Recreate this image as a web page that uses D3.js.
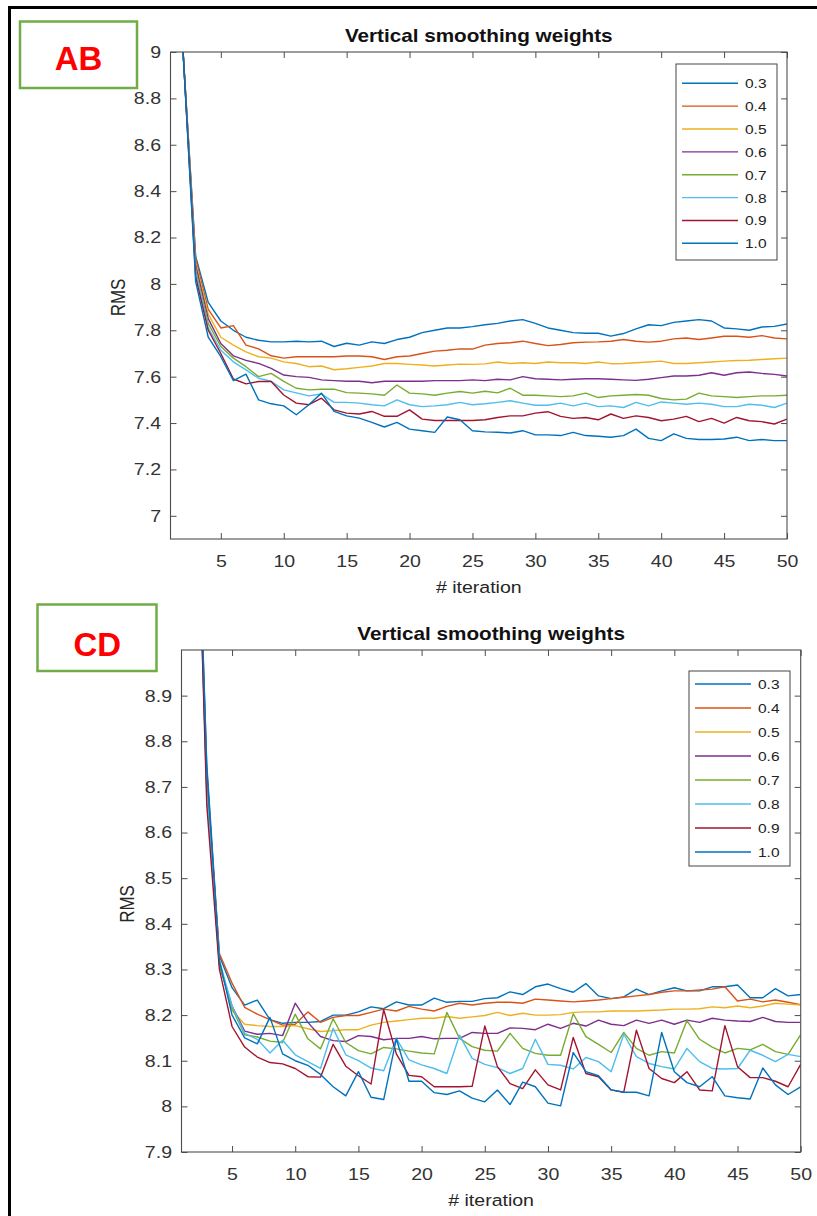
<!DOCTYPE html>
<html>
<head>
<meta charset="utf-8">
<script src="https://cdn.jsdelivr.net/npm/d3@7"></script>
<style>
  html, body { margin: 0; padding: 0; background: #fff; }
  svg { display: block; font-family: "Liberation Sans", Arial, sans-serif; }
</style>
</head>
<body>
<svg id="fig" width="817" height="1216"></svg>
<script>
// Iteration index (x values) shared by every curve
const iterations = [1,2,3,4,5,6,7,8,9,10,11,12,13,14,15,16,17,18,19,20,
  21,22,23,24,25,26,27,28,29,30,31,32,33,34,35,36,37,38,39,40,
  41,42,43,44,45,46,47,48,49,50];

// Smoothing weights (legend entries) and their line colours
const weightLabels = ["0.3", "0.4", "0.5", "0.6", "0.7", "0.8", "0.9", "1.0"];
const lineColors = ["#0072BD", "#D95319", "#EDB120", "#7E2F8E", "#77AC30", "#4DBEEE", "#A2142F", "#0072BD"];

// Tick values
const xTicks = [5, 10, 15, 20, 25, 30, 35, 40, 45, 50];
const abYTicks = [7, 7.2, 7.4, 7.6, 7.8, 8, 8.2, 8.4, 8.6, 8.8, 9];
const cdYTicks = [7.9, 8, 8.1, 8.2, 8.3, 8.4, 8.5, 8.6, 8.7, 8.8, 8.9];

// Panel AB: RMS per iteration for each weight
const ab03 = [10.5, 9.0, 8.12, 7.92, 7.84, 7.80, 7.77, 7.757, 7.75, 7.75, 7.753, 7.75, 7.753, 7.73, 7.744, 7.736, 7.75, 7.743, 7.76, 7.77, 7.79, 7.80, 7.81, 7.81, 7.816, 7.824, 7.83, 7.84, 7.846, 7.83, 7.81, 7.80, 7.79, 7.787, 7.787, 7.775, 7.786, 7.806, 7.824, 7.82, 7.834, 7.84, 7.846, 7.84, 7.81, 7.806, 7.80, 7.814, 7.817, 7.827];
const ab04 = [10.5, 9.0, 8.11, 7.89, 7.81, 7.82, 7.736, 7.72, 7.69, 7.68, 7.686, 7.686, 7.686, 7.686, 7.689, 7.689, 7.686, 7.674, 7.686, 7.689, 7.70, 7.71, 7.714, 7.72, 7.719, 7.736, 7.743, 7.746, 7.753, 7.743, 7.734, 7.739, 7.746, 7.749, 7.75, 7.753, 7.76, 7.753, 7.749, 7.753, 7.763, 7.767, 7.76, 7.767, 7.774, 7.774, 7.77, 7.777, 7.767, 7.763];
const ab05 = [10.5, 9.0, 8.09, 7.87, 7.77, 7.736, 7.707, 7.686, 7.68, 7.664, 7.657, 7.643, 7.646, 7.63, 7.634, 7.64, 7.646, 7.657, 7.657, 7.653, 7.65, 7.646, 7.65, 7.654, 7.653, 7.655, 7.663, 7.657, 7.66, 7.657, 7.663, 7.66, 7.66, 7.657, 7.663, 7.656, 7.657, 7.66, 7.663, 7.667, 7.657, 7.657, 7.66, 7.663, 7.667, 7.67, 7.671, 7.674, 7.677, 7.68];
const ab06 = [10.5, 9.0, 8.08, 7.85, 7.743, 7.69, 7.67, 7.657, 7.636, 7.607, 7.60, 7.597, 7.586, 7.583, 7.58, 7.58, 7.574, 7.58, 7.58, 7.58, 7.58, 7.583, 7.583, 7.583, 7.586, 7.583, 7.589, 7.586, 7.60, 7.591, 7.589, 7.586, 7.589, 7.591, 7.591, 7.589, 7.586, 7.584, 7.589, 7.596, 7.603, 7.603, 7.606, 7.617, 7.606, 7.617, 7.62, 7.614, 7.61, 7.603];
const ab07 = [10.5, 9.0, 8.06, 7.83, 7.73, 7.68, 7.643, 7.60, 7.614, 7.58, 7.55, 7.543, 7.546, 7.546, 7.531, 7.529, 7.526, 7.52, 7.564, 7.529, 7.526, 7.52, 7.529, 7.536, 7.529, 7.537, 7.53, 7.55, 7.52, 7.52, 7.517, 7.514, 7.517, 7.529, 7.51, 7.517, 7.52, 7.523, 7.52, 7.506, 7.50, 7.503, 7.529, 7.517, 7.514, 7.51, 7.514, 7.517, 7.517, 7.52];
const ab08 = [10.5, 9.0, 8.05, 7.81, 7.714, 7.664, 7.629, 7.593, 7.58, 7.543, 7.53, 7.517, 7.525, 7.489, 7.489, 7.486, 7.479, 7.474, 7.50, 7.479, 7.471, 7.474, 7.479, 7.489, 7.479, 7.483, 7.489, 7.496, 7.486, 7.477, 7.477, 7.486, 7.474, 7.486, 7.471, 7.474, 7.467, 7.489, 7.474, 7.491, 7.486, 7.481, 7.486, 7.481, 7.471, 7.471, 7.481, 7.477, 7.467, 7.486];
const ab09 = [10.5, 9.0, 8.03, 7.80, 7.70, 7.59, 7.569, 7.579, 7.579, 7.521, 7.486, 7.479, 7.507, 7.457, 7.443, 7.439, 7.45, 7.429, 7.429, 7.457, 7.417, 7.411, 7.411, 7.411, 7.411, 7.414, 7.424, 7.431, 7.431, 7.443, 7.449, 7.429, 7.42, 7.424, 7.414, 7.439, 7.42, 7.431, 7.424, 7.41, 7.417, 7.429, 7.406, 7.42, 7.40, 7.424, 7.41, 7.406, 7.396, 7.417];
const ab10 = [10.5, 9.0, 8.01, 7.77, 7.686, 7.583, 7.611, 7.50, 7.483, 7.474, 7.436, 7.479, 7.529, 7.45, 7.431, 7.421, 7.403, 7.383, 7.403, 7.374, 7.367, 7.36, 7.426, 7.414, 7.367, 7.362, 7.36, 7.357, 7.367, 7.349, 7.349, 7.346, 7.36, 7.346, 7.343, 7.339, 7.346, 7.374, 7.334, 7.324, 7.353, 7.334, 7.329, 7.329, 7.331, 7.339, 7.324, 7.329, 7.324, 7.324];

// Panel CD: RMS per iteration for each weight
const cd03 = [11.5, 9.6, 8.75, 8.33, 8.26, 8.222, 8.233, 8.19, 8.182, 8.184, 8.184, 8.186, 8.2, 8.2, 8.207, 8.218, 8.214, 8.229, 8.222, 8.222, 8.237, 8.228, 8.23, 8.23, 8.236, 8.238, 8.251, 8.245, 8.262, 8.268, 8.258, 8.25, 8.269, 8.242, 8.236, 8.24, 8.257, 8.245, 8.253, 8.26, 8.253, 8.253, 8.262, 8.262, 8.266, 8.238, 8.238, 8.258, 8.242, 8.245];
const cd04 = [11.5, 9.6, 8.72, 8.335, 8.27, 8.217, 8.202, 8.19, 8.178, 8.18, 8.207, 8.184, 8.195, 8.199, 8.199, 8.206, 8.213, 8.209, 8.219, 8.213, 8.209, 8.219, 8.226, 8.222, 8.226, 8.228, 8.228, 8.226, 8.235, 8.233, 8.231, 8.229, 8.231, 8.233, 8.236, 8.239, 8.242, 8.245, 8.25, 8.253, 8.253, 8.255, 8.257, 8.262, 8.231, 8.235, 8.229, 8.233, 8.228, 8.223];
const cd05 = [11.5, 9.6, 8.70, 8.32, 8.21, 8.18, 8.177, 8.175, 8.175, 8.177, 8.17, 8.164, 8.166, 8.168, 8.168, 8.178, 8.184, 8.187, 8.19, 8.193, 8.193, 8.197, 8.193, 8.196, 8.199, 8.206, 8.199, 8.204, 8.2, 8.2, 8.201, 8.206, 8.207, 8.207, 8.209, 8.209, 8.209, 8.21, 8.211, 8.213, 8.213, 8.214, 8.218, 8.216, 8.22, 8.216, 8.22, 8.226, 8.224, 8.222];
const cd06 = [11.5, 9.6, 8.70, 8.31, 8.22, 8.165, 8.158, 8.16, 8.155, 8.226, 8.184, 8.153, 8.144, 8.142, 8.155, 8.153, 8.146, 8.149, 8.149, 8.153, 8.148, 8.149, 8.149, 8.162, 8.16, 8.16, 8.172, 8.171, 8.168, 8.18, 8.171, 8.182, 8.176, 8.189, 8.18, 8.177, 8.189, 8.182, 8.189, 8.18, 8.189, 8.184, 8.193, 8.189, 8.187, 8.186, 8.195, 8.186, 8.184, 8.184];
const cd07 = [11.5, 9.6, 8.69, 8.31, 8.215, 8.157, 8.152, 8.143, 8.14, 8.202, 8.148, 8.126, 8.192, 8.14, 8.122, 8.115, 8.129, 8.126, 8.121, 8.117, 8.115, 8.206, 8.149, 8.131, 8.123, 8.121, 8.16, 8.127, 8.116, 8.112, 8.112, 8.203, 8.153, 8.136, 8.118, 8.162, 8.127, 8.112, 8.12, 8.117, 8.188, 8.147, 8.13, 8.117, 8.127, 8.124, 8.136, 8.12, 8.114, 8.157];
const cd08 = [11.5, 9.6, 8.68, 8.32, 8.22, 8.16, 8.147, 8.117, 8.145, 8.113, 8.098, 8.083, 8.171, 8.113, 8.1, 8.084, 8.078, 8.149, 8.102, 8.091, 8.083, 8.072, 8.156, 8.105, 8.092, 8.085, 8.072, 8.083, 8.147, 8.092, 8.09, 8.082, 8.107, 8.098, 8.076, 8.158, 8.109, 8.094, 8.087, 8.082, 8.127, 8.098, 8.083, 8.082, 8.083, 8.123, 8.112, 8.098, 8.114, 8.109];
const cd09 = [11.5, 9.6, 8.66, 8.30, 8.175, 8.13, 8.108, 8.096, 8.093, 8.083, 8.065, 8.064, 8.136, 8.088, 8.067, 8.049, 8.212, 8.115, 8.068, 8.065, 8.043, 8.043, 8.043, 8.044, 8.176, 8.087, 8.05, 8.039, 8.08, 8.047, 8.036, 8.151, 8.072, 8.065, 8.036, 8.031, 8.167, 8.083, 8.061, 8.052, 8.076, 8.036, 8.034, 8.177, 8.087, 8.063, 8.063, 8.055, 8.043, 8.092];
const cd10 = [11.5, 9.6, 8.74, 8.32, 8.2, 8.15, 8.137, 8.195, 8.115, 8.1, 8.09, 8.07, 8.043, 8.023, 8.076, 8.02, 8.015, 8.148, 8.055, 8.055, 8.03, 8.026, 8.034, 8.018, 8.01, 8.036, 8.004, 8.053, 8.043, 8.007, 8.001, 8.118, 8.076, 8.067, 8.036, 8.031, 8.031, 8.023, 8.162, 8.076, 8.052, 8.043, 8.065, 8.023, 8.019, 8.016, 8.084, 8.047, 8.026, 8.043];

const abSeries = [ab03, ab04, ab05, ab06, ab07, ab08, ab09, ab10];
const cdSeries = [cd03, cd04, cd05, cd06, cd07, cd08, cd09, cd10];

const svg = d3.select("#fig");
const SX = 1.15;          // horizontal stretch applied to all figure text
const TEXT = "#262626";
const AXIS = "#4d4d4d";

function label(parent, x, y, str, o) {
  return parent.append("text")
    .attr("transform", `translate(${x},${y}) scale(${o.sx || SX},1)` + (o.rotate ? ` rotate(${o.rotate})` : ""))
    .attr("text-anchor", o.anchor || "middle")
    .attr("font-size", o.size)
    .attr("font-weight", o.weight || "normal")
    .attr("fill", o.fill || TEXT)
    .text(str);
}

// Re-anchor axis tick labels so that they can be stretched horizontally
function stretchTickText(sel) {
  sel.selectAll(".tick text").each(function () {
    const t = d3.select(this);
    const tx = +t.attr("x") || 0, ty = +t.attr("y") || 0;
    t.attr("x", 0).attr("y", 0)
     .attr("transform", `translate(${tx},${ty}) scale(${SX},1)`);
  });
}

function styleAxis(sel, fontSize) {
  sel.attr("font-family", null).attr("font-size", fontSize);
  sel.select(".domain").remove();
  sel.selectAll(".tick line").attr("stroke", AXIS).attr("stroke-width", 1);
  sel.selectAll(".tick text").attr("fill", "#333");
}

function drawPanel(p) {
  const x = d3.scaleLinear().domain([1, 50]).range([p.left, p.right]);
  const y = d3.scaleLinear().domain(p.yDomain).range([p.bottom, p.top]);
  const g = svg.append("g");
  const tick = 6;

  g.append("clipPath").attr("id", "clip-" + p.id).append("rect")
    .attr("x", p.left).attr("y", p.top)
    .attr("width", p.right - p.left).attr("height", p.bottom - p.top);

  // Curves
  const line = d3.line()
    .x((d, i) => x(iterations[i]))
    .y(d => y(d));
  g.append("g").attr("clip-path", `url(#clip-${p.id})`)
    .selectAll("path").data(p.series).join("path")
    .attr("d", line)
    .attr("fill", "none")
    .attr("stroke", (d, i) => lineColors[i])
    .attr("stroke-width", 1.4)
    .attr("stroke-linejoin", "round");

  // Axes with inward ticks on all four sides
  const bottomAx = g.append("g").attr("transform", `translate(0,${p.bottom})`)
    .call(d3.axisBottom(x).tickValues(xTicks).tickSizeInner(-tick).tickSizeOuter(0).tickPadding(16));
  styleAxis(bottomAx, 17); stretchTickText(bottomAx);

  const topAx = g.append("g").attr("transform", `translate(0,${p.top})`)
    .call(d3.axisTop(x).tickValues(xTicks).tickSizeInner(-tick).tickSizeOuter(0).tickFormat(() => ""));
  styleAxis(topAx, 17);

  const leftAx = g.append("g").attr("transform", `translate(${p.left},0)`)
    .call(d3.axisLeft(y).tickValues(p.yTicks).tickSizeInner(-tick).tickSizeOuter(0).tickPadding(9.5)
      .tickFormat(d3.format("~g")));
  styleAxis(leftAx, 17); stretchTickText(leftAx);

  const rightAx = g.append("g").attr("transform", `translate(${p.right},0)`)
    .call(d3.axisRight(y).tickValues(p.yTicks).tickSizeInner(-tick).tickSizeOuter(0).tickFormat(() => ""));
  styleAxis(rightAx, 17);

  // Axes box
  g.append("rect")
    .attr("x", p.left).attr("y", p.top)
    .attr("width", p.right - p.left).attr("height", p.bottom - p.top)
    .attr("fill", "none").attr("stroke", AXIS).attr("stroke-width", 1.1);

  // Title and axis labels
  const cx = (p.left + p.right) / 2;
  label(g, cx, p.top - 10, "Vertical smoothing weights", { size: 18, weight: "bold", fill: "#111" });
  label(g, cx, p.bottom + 54, "# iteration", { size: 17 });
  label(g, p.ylabelX, (p.top + p.bottom) / 2 + p.ylabelDy, "RMS", { size: 17, rotate: -90 });

  // Legend
  const L = p.legend;
  const lg = g.append("g");
  lg.append("rect")
    .attr("x", L.x).attr("y", L.y).attr("width", L.w).attr("height", L.h)
    .attr("fill", "#fff").attr("stroke", "#444").attr("stroke-width", 1);
  weightLabels.forEach((lab, i) => {
    const ry = L.y + L.first + i * L.step;
    lg.append("line")
      .attr("x1", L.x + 6).attr("x2", L.x + 62)
      .attr("y1", ry).attr("y2", ry)
      .attr("stroke", lineColors[i]).attr("stroke-width", 1.4);
    label(lg, L.x + 69, ry + 5, lab, { size: 13.5, anchor: "start", fill: "#222" });
  });
}

// Outer frame (top and left rules)
svg.append("line").attr("x1", 8).attr("x2", 817).attr("y1", 7.5).attr("y2", 7.5)
  .attr("stroke", "#000").attr("stroke-width", 3);
svg.append("line").attr("x1", 9.5).attr("x2", 9.5).attr("y1", 6).attr("y2", 1216)
  .attr("stroke", "#000").attr("stroke-width", 3);

drawPanel({
  id: "ab", left: 170.5, right: 787, top: 52, bottom: 539,
  yDomain: [6.9, 9.0], yTicks: abYTicks, series: abSeries,
  ylabelX: 125, ylabelDy: 2,
  legend: { x: 676, y: 64, w: 101, h: 196, first: 19.3, step: 22.86 }
});

drawPanel({
  id: "cd", left: 181.5, right: 800.7, top: 650, bottom: 1152,
  yDomain: [7.9, 9.0], yTicks: cdYTicks, series: cdSeries,
  ylabelX: 134, ylabelDy: 3,
  legend: { x: 689, y: 671, w: 101, h: 195, first: 13, step: 24 }
});

// Panel tags
function tag(x, y, w, h, text, cx, baseline) {
  svg.append("rect").attr("x", x).attr("y", y).attr("width", w).attr("height", h)
    .attr("fill", "#fff").attr("stroke", "#70AD47").attr("stroke-width", 2.5);
  label(svg, cx, baseline, text, { size: 34, weight: "bold", fill: "#FF0000", sx: 0.97 });
}
tag(20, 21.5, 117, 66.5, "AB", 78.5, 69.5);
tag(37.5, 604.5, 119, 66.5, "CD", 97.3, 656);
</script>
</body>
</html>
